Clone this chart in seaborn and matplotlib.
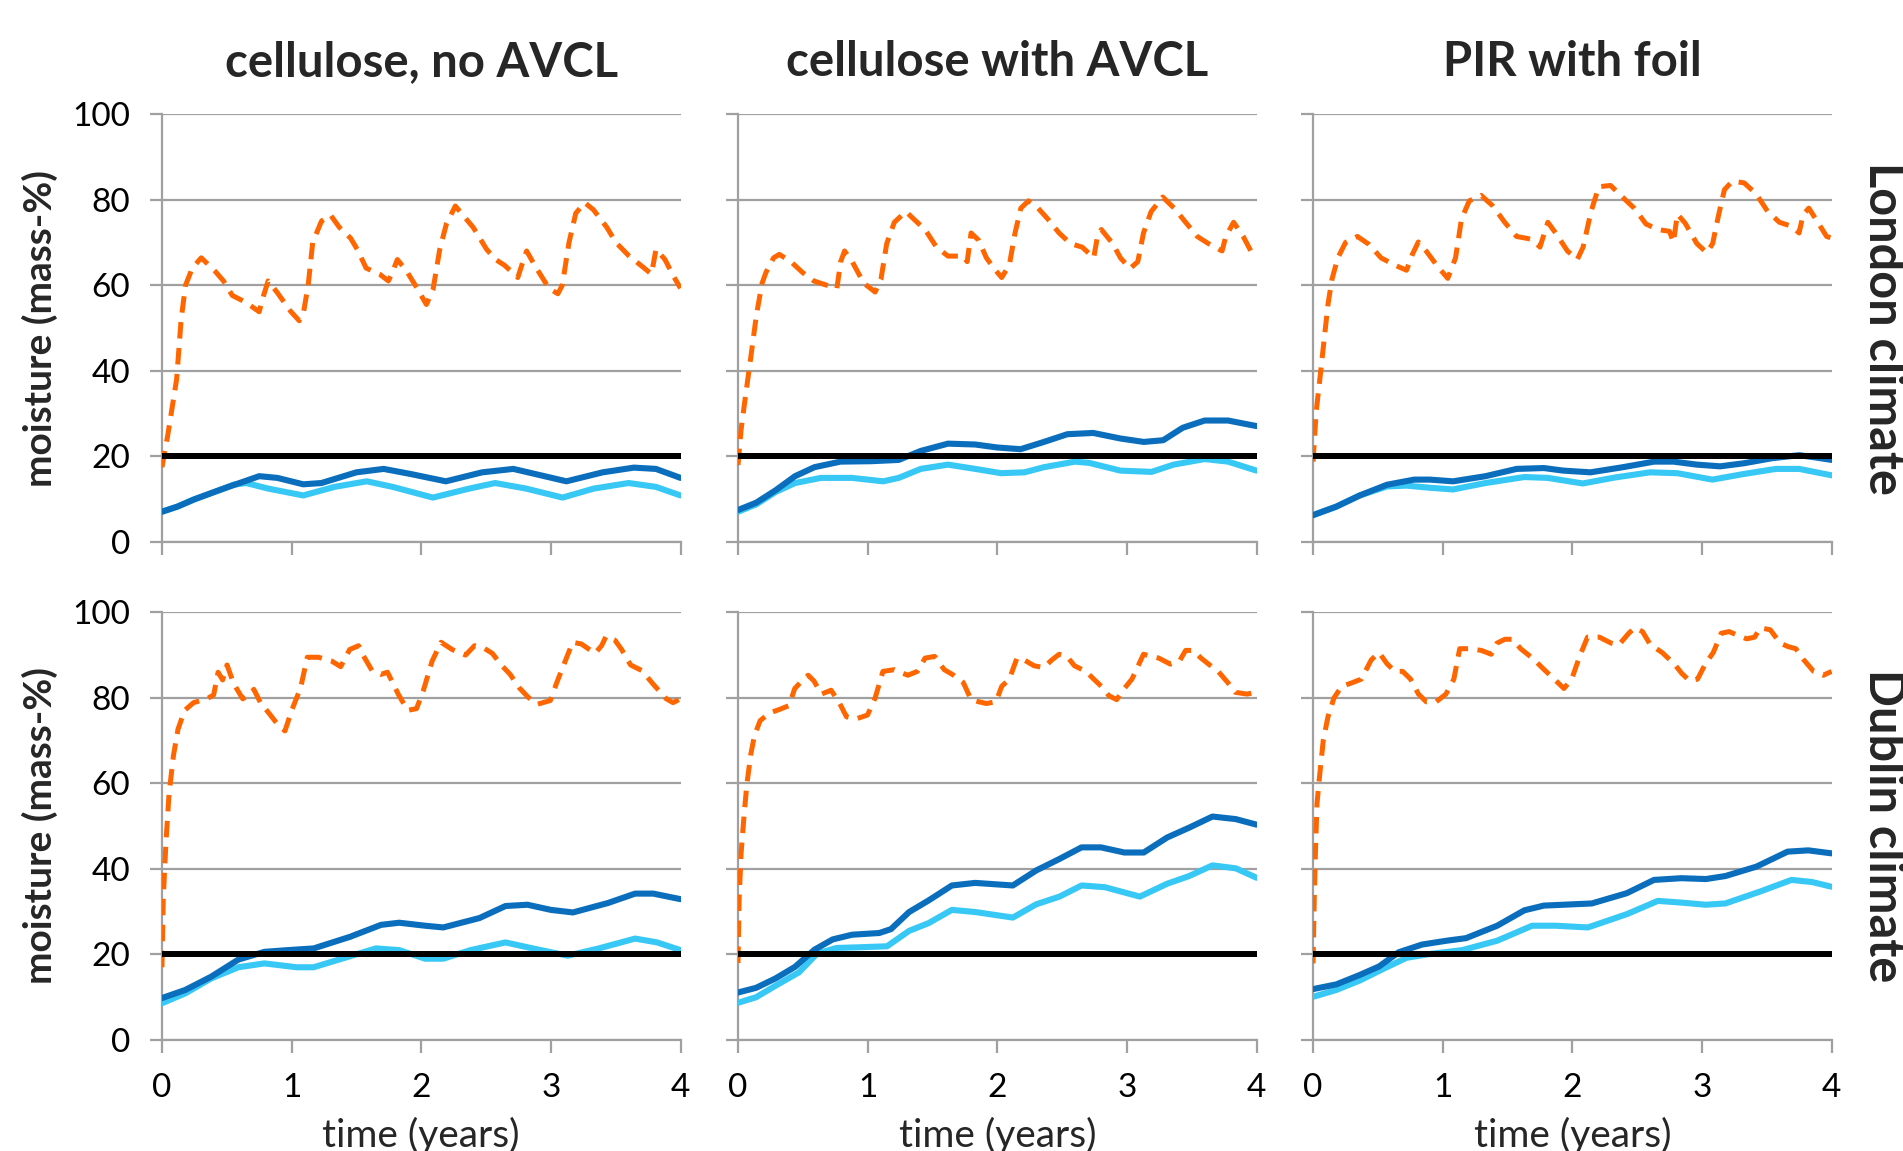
import numpy as np
import pandas as pd
import seaborn as sns
import matplotlib
matplotlib.use("Agg")
import matplotlib.pyplot as plt

# ---- data -----------------------------------------------------------------
columns = ["cellulose, no AVCL", "cellulose with AVCL", "PIR with foil"]
rows = ["London climate", "Dublin climate"]
threshold = 20
xticks = [0, 1, 2, 3, 4]
yticks = [0, 20, 40, 60, 80, 100]

# London, cellulose no AVCL
lon_noavcl_orange_t = [0, 0.045, 0.113, 0.148, 0.182, 0.234, 0.303, 0.406, 0.475, 0.543, 0.647, 0.75, 0.784, 0.819, 0.887, 0.99, 1.059, 1.094, 1.128, 1.163, 1.231, 1.3, 1.369, 1.455, 1.506, 1.575, 1.678, 1.747, 1.782, 1.816, 1.885, 1.954, 2.04, 2.091, 2.143, 2.194, 2.263, 2.332, 2.401, 2.504, 2.573, 2.641, 2.745, 2.779, 2.813, 2.882, 2.985, 3.054, 3.088, 3.14, 3.192, 3.261, 3.329, 3.432, 3.501, 3.604, 3.708, 3.776, 3.811, 3.88, 3.948, 4.0]
lon_noavcl_orange = [17.5, 25, 38, 52, 60, 64, 66.4, 63.4, 61, 57.6, 56, 53.8, 57.6, 61, 58.4, 54, 51.7, 54, 60, 70, 75, 76.4, 73.5, 71, 68.4, 64, 62.6, 61, 63.4, 66, 63.4, 60, 55.5, 59, 68.4, 74.3, 78.5, 76, 73.5, 68.4, 66, 64.7, 61.8, 65, 68, 64.3, 59.3, 58, 60, 70, 76.8, 79.3, 77.6, 73.5, 70, 66.8, 64.3, 62.6, 68.4, 66, 62, 59.3]
lon_noavcl_dark_t = [0, 0.12, 0.25, 0.475, 0.75, 0.89, 1.09, 1.23, 1.5, 1.71, 1.92, 2.19, 2.47, 2.71, 2.88, 3.12, 3.4, 3.64, 3.81, 4.0]
lon_noavcl_dark = [7.1, 8.3, 10, 12.5, 15.4, 15, 13.5, 13.8, 16.3, 17.1, 15.9, 14.2, 16.3, 17.1, 15.9, 14.2, 16.3, 17.4, 17.1, 15]
lon_noavcl_light_t = [0, 0.12, 0.25, 0.475, 0.55, 0.65, 0.82, 1.09, 1.33, 1.58, 1.78, 2.09, 2.37, 2.57, 2.81, 3.09, 3.33, 3.6, 3.81, 4.0]
lon_noavcl_light = [7.1, 8.3, 10, 12.5, 13.4, 13.8, 12.5, 10.9, 12.9, 14.2, 12.9, 10.4, 12.5, 13.8, 12.5, 10.4, 12.5, 13.8, 12.9, 10.9]

# London, cellulose with AVCL
lon_avcl_orange_t = [0, 0.024, 0.053, 0.098, 0.142, 0.186, 0.216, 0.275, 0.319, 0.408, 0.497, 0.585, 0.674, 0.763, 0.792, 0.822, 0.881, 0.97, 1.058, 1.103, 1.147, 1.206, 1.295, 1.354, 1.443, 1.531, 1.62, 1.738, 1.768, 1.798, 1.857, 1.916, 1.975, 2.034, 2.093, 2.137, 2.182, 2.241, 2.3, 2.389, 2.477, 2.566, 2.655, 2.744, 2.773, 2.803, 2.891, 2.95, 3.024, 3.084, 3.128, 3.187, 3.276, 3.364, 3.453, 3.542, 3.63, 3.734, 3.763, 3.823, 3.897, 3.956, 4.0]
lon_avcl_orange = [18, 26.3, 33, 43, 53, 60.5, 63, 66.4, 67.2, 65.5, 63, 61, 60.1, 59.3, 65.5, 68, 65.5, 60.5, 58.4, 61.4, 69.7, 74.7, 77.2, 75.5, 73, 68.9, 66.8, 66.8, 65.5, 72.2, 70.5, 66.4, 63.9, 61.8, 64.7, 72.2, 78, 79.7, 78.5, 75.5, 72.2, 69.7, 68.9, 66.4, 71.4, 73, 69.7, 66.4, 63.9, 65.5, 72.2, 77.2, 80.6, 78, 74.7, 71.4, 69.7, 68, 71.4, 74.7, 71.4, 68, 67.2]
lon_avcl_dark_t = [0, 0.14, 0.29, 0.44, 0.59, 0.79, 1.03, 1.24, 1.41, 1.62, 1.83, 2.0, 2.18, 2.36, 2.54, 2.74, 2.95, 3.13, 3.28, 3.43, 3.6, 3.78, 4.0]
lon_avcl_dark = [7.5, 9.2, 12.1, 15.4, 17.5, 18.8, 18.9, 19.2, 21.3, 23, 22.8, 22.1, 21.7, 23.4, 25.2, 25.5, 24.2, 23.4, 23.8, 26.7, 28.4, 28.4, 27.1]
lon_avcl_light_t = [0, 0.14, 0.29, 0.44, 0.64, 0.88, 1.12, 1.24, 1.41, 1.62, 1.83, 2.03, 2.21, 2.36, 2.6, 2.71, 2.95, 3.19, 3.36, 3.6, 3.78, 4.0]
lon_avcl_light = [7.1, 8.8, 11.7, 13.8, 15, 15, 14.2, 15, 17.1, 18.1, 17.1, 16.1, 16.3, 17.5, 18.8, 18.5, 16.7, 16.4, 18.1, 19.4, 18.8, 16.7]

# London, PIR with foil
lon_pir_orange_t = [0, 0.024, 0.055, 0.085, 0.115, 0.145, 0.191, 0.251, 0.342, 0.433, 0.524, 0.63, 0.721, 0.766, 0.812, 0.872, 0.963, 1.039, 1.099, 1.145, 1.205, 1.296, 1.387, 1.478, 1.569, 1.69, 1.75, 1.811, 1.871, 1.962, 2.038, 2.083, 2.144, 2.204, 2.295, 2.386, 2.477, 2.568, 2.659, 2.749, 2.78, 2.81, 2.87, 2.961, 3.037, 3.082, 3.128, 3.173, 3.234, 3.325, 3.416, 3.507, 3.597, 3.688, 3.749, 3.779, 3.824, 3.885, 3.961, 4.0]
lon_pir_orange = [18.8, 30.5, 38.8, 47.2, 55.5, 61.3, 66.4, 70, 71.4, 69.5, 66.4, 64.7, 63.5, 67.2, 70.1, 68, 64.3, 61.6, 66.4, 75.5, 79.7, 81, 78.5, 74.7, 71.4, 70.7, 68.9, 74.7, 72.2, 68, 66, 68.9, 77.2, 83, 83.3, 80.6, 78, 74.3, 73, 72.6, 70, 76.6, 74.5, 69.7, 67.6, 69.7, 76.4, 82.3, 84.3, 83.9, 81.4, 77.2, 74.7, 73.8, 72.2, 76.4, 78, 75.1, 71.4, 71]
lon_pir_dark_t = [0, 0.18, 0.36, 0.57, 0.78, 0.9, 1.08, 1.33, 1.57, 1.78, 1.93, 2.14, 2.39, 2.63, 2.78, 2.96, 3.14, 3.32, 3.54, 3.75, 3.87, 4.0]
lon_pir_dark = [6.3, 8.3, 10.9, 13.4, 14.6, 14.6, 14.2, 15.4, 17.1, 17.3, 16.7, 16.3, 17.5, 18.8, 18.8, 18.1, 17.7, 18.4, 19.6, 20.3, 19.8, 19.2]
lon_pir_light_t = [0, 0.18, 0.36, 0.57, 0.72, 0.9, 1.08, 1.33, 1.63, 1.81, 2.08, 2.33, 2.6, 2.81, 3.08, 3.32, 3.57, 3.75, 4.0]
lon_pir_light = [6.3, 8.3, 10.9, 13.0, 13.2, 12.7, 12.3, 13.8, 15.2, 15.0, 13.7, 15.1, 16.3, 16.1, 14.6, 15.9, 17.1, 17.1, 15.6]

# Dublin, cellulose no AVCL
dub_noavcl_orange_t = [0, 0.01, 0.031, 0.055, 0.089, 0.124, 0.175, 0.244, 0.347, 0.399, 0.433, 0.468, 0.502, 0.554, 0.623, 0.674, 0.709, 0.76, 0.829, 0.898, 0.949, 1.001, 1.07, 1.121, 1.207, 1.31, 1.379, 1.448, 1.517, 1.551, 1.62, 1.689, 1.74, 1.826, 1.895, 1.964, 2.015, 2.084, 2.153, 2.239, 2.342, 2.411, 2.48, 2.549, 2.617, 2.686, 2.755, 2.824, 2.893, 2.996, 3.047, 3.099, 3.168, 3.236, 3.34, 3.391, 3.426, 3.494, 3.546, 3.615, 3.701, 3.787, 3.89, 3.942, 4.0]
dub_noavcl_orange = [17, 32.9, 46.2, 57.6, 66.5, 72.6, 77, 78.8, 79.7, 80.6, 85.9, 84.1, 87.6, 83.2, 79.7, 80.6, 81.9, 78.8, 76.2, 73.5, 72.2, 77, 82.3, 89.4, 89.4, 88.5, 87.2, 91.2, 92.1, 89.9, 86.3, 85.4, 85.9, 80.6, 77, 77.4, 81.5, 88.5, 92.9, 91.2, 89.9, 92.1, 91.6, 90.3, 87.6, 85.4, 82.3, 80.1, 78.4, 79.3, 83.6, 87.6, 92.9, 92.5, 90.3, 92.1, 94.3, 93.4, 91.2, 87.6, 86.3, 83.2, 79.7, 78.8, 79.7]
dub_noavcl_dark_t = [0, 0.18, 0.38, 0.59, 0.79, 0.97, 1.17, 1.45, 1.69, 1.83, 2.03, 2.17, 2.45, 2.65, 2.82, 3.0, 3.17, 3.44, 3.65, 3.79, 4.0]
dub_noavcl_dark = [9.8, 11.7, 14.8, 18.8, 20.6, 21, 21.4, 24.1, 26.9, 27.4, 26.7, 26.3, 28.5, 31.3, 31.6, 30.4, 29.8, 32, 34.2, 34.2, 32.9]
dub_noavcl_light_t = [0, 0.18, 0.38, 0.59, 0.79, 1.04, 1.17, 1.41, 1.65, 1.83, 2.03, 2.17, 2.38, 2.65, 2.86, 3.13, 3.37, 3.65, 3.82, 4.0]
dub_noavcl_light = [8.6, 10.9, 14.4, 17, 17.9, 17, 17, 19.2, 21.4, 21, 19, 19, 21, 22.8, 21.4, 19.7, 21.4, 23.7, 22.8, 21]

# Dublin, cellulose with AVCL
dub_avcl_orange_t = [0, 0.009, 0.024, 0.047, 0.068, 0.098, 0.127, 0.171, 0.245, 0.319, 0.393, 0.438, 0.482, 0.541, 0.585, 0.644, 0.718, 0.778, 0.837, 0.911, 0.999, 1.058, 1.118, 1.206, 1.31, 1.384, 1.443, 1.517, 1.591, 1.664, 1.738, 1.798, 1.857, 1.916, 1.99, 2.034, 2.093, 2.152, 2.211, 2.285, 2.359, 2.418, 2.477, 2.537, 2.596, 2.684, 2.744, 2.803, 2.862, 2.921, 2.98, 3.039, 3.128, 3.246, 3.335, 3.409, 3.453, 3.512, 3.572, 3.63, 3.704, 3.778, 3.837, 3.926, 4.0]
dub_avcl_orange = [18, 33, 43.6, 52.5, 59.6, 66.6, 71.1, 74.6, 76.4, 77.2, 78.1, 82.1, 83.5, 85.2, 83.9, 80.8, 81.7, 79, 75.5, 75, 75.9, 79.9, 86.1, 86.5, 85.2, 86.1, 89.2, 89.6, 86.5, 85.2, 83.5, 79.5, 79, 78.6, 79, 82.6, 84.3, 89.2, 88.7, 87.4, 87, 88.7, 90.1, 89.6, 87.4, 86.1, 84.3, 82.6, 80.4, 79.5, 82.1, 84.3, 90.1, 89.2, 87.8, 88.7, 91, 91, 89.2, 87.8, 86.1, 83.5, 81.2, 80.8, 81.2]
dub_avcl_dark_t = [0, 0.14, 0.29, 0.44, 0.59, 0.73, 0.88, 1.09, 1.18, 1.32, 1.47, 1.65, 1.83, 2.12, 2.3, 2.48, 2.65, 2.8, 2.98, 3.13, 3.31, 3.48, 3.66, 3.84, 4.0]
dub_avcl_dark = [11.1, 12.2, 14.4, 17.1, 21.1, 23.5, 24.6, 25, 25.9, 29.9, 32.6, 36.1, 36.7, 36.1, 39.6, 42.3, 45, 45, 43.8, 43.8, 47.3, 49.6, 52.2, 51.6, 50.3]
dub_avcl_light_t = [0, 0.14, 0.29, 0.47, 0.61, 0.76, 0.97, 1.15, 1.32, 1.47, 1.65, 1.83, 2.12, 2.3, 2.48, 2.65, 2.83, 3.1, 3.31, 3.48, 3.66, 3.84, 4.0]
dub_avcl_light = [8.7, 10, 12.7, 15.8, 20.2, 21.5, 21.7, 21.9, 25.5, 27.3, 30.4, 29.9, 28.6, 31.7, 33.5, 36.1, 35.7, 33.5, 36.5, 38.3, 40.8, 40.1, 37.9]

# Dublin, PIR with foil
dub_pir_orange_t = [0, 0.009, 0.018, 0.03, 0.049, 0.079, 0.115, 0.161, 0.221, 0.297, 0.373, 0.403, 0.449, 0.509, 0.57, 0.631, 0.691, 0.752, 0.813, 0.873, 0.949, 1.025, 1.086, 1.131, 1.207, 1.298, 1.374, 1.419, 1.48, 1.541, 1.601, 1.692, 1.783, 1.874, 1.935, 1.995, 2.056, 2.117, 2.208, 2.299, 2.359, 2.435, 2.481, 2.541, 2.602, 2.693, 2.784, 2.845, 2.905, 2.966, 3.027, 3.087, 3.148, 3.209, 3.269, 3.345, 3.406, 3.451, 3.527, 3.603, 3.663, 3.724, 3.785, 3.861, 3.936, 4.0]
dub_pir_orange = [17.9, 33, 43.6, 55.1, 61.3, 70.1, 75.5, 79.9, 82.6, 83.4, 84.3, 86.1, 88.8, 90.5, 87.9, 86.1, 86.1, 84.3, 80.8, 79, 79, 80.8, 84.3, 91.4, 91.4, 91, 90.1, 92.7, 93.6, 93.6, 91.4, 89.2, 86.5, 83.9, 82.1, 84.3, 89.6, 94.1, 94.1, 92.7, 92.3, 95, 96.3, 95.4, 92.3, 90.5, 87.9, 85.6, 83.9, 84.3, 87.9, 90.5, 95, 95.4, 94.6, 93.7, 94.1, 96.3, 95.8, 92.7, 91.9, 91.4, 88.8, 86.1, 85.2, 86.1]
dub_pir_dark_t = [0, 0.18, 0.36, 0.51, 0.66, 0.84, 1.03, 1.18, 1.42, 1.63, 1.78, 1.93, 2.15, 2.42, 2.63, 2.84, 3.03, 3.18, 3.42, 3.66, 3.82, 4.0]
dub_pir_dark = [11.9, 13, 15.2, 17.2, 20.5, 22.3, 23.2, 23.8, 26.7, 30.3, 31.4, 31.6, 31.9, 34.3, 37.4, 37.8, 37.6, 38.3, 40.5, 44, 44.3, 43.6]
dub_pir_light_t = [0, 0.18, 0.36, 0.54, 0.72, 0.9, 1.15, 1.42, 1.69, 1.87, 2.12, 2.42, 2.66, 2.84, 3.03, 3.18, 3.45, 3.69, 3.85, 4.0]
dub_pir_light = [10.1, 11.7, 13.9, 16.6, 19.2, 20.1, 21, 23.2, 26.7, 26.7, 26.3, 29.4, 32.5, 32.1, 31.6, 31.9, 34.7, 37.4, 36.9, 35.8]

panels = [
    [(lon_noavcl_orange_t, lon_noavcl_orange, lon_noavcl_dark_t, lon_noavcl_dark, lon_noavcl_light_t, lon_noavcl_light),
     (lon_avcl_orange_t, lon_avcl_orange, lon_avcl_dark_t, lon_avcl_dark, lon_avcl_light_t, lon_avcl_light),
     (lon_pir_orange_t, lon_pir_orange, lon_pir_dark_t, lon_pir_dark, lon_pir_light_t, lon_pir_light)],
    [(dub_noavcl_orange_t, dub_noavcl_orange, dub_noavcl_dark_t, dub_noavcl_dark, dub_noavcl_light_t, dub_noavcl_light),
     (dub_avcl_orange_t, dub_avcl_orange, dub_avcl_dark_t, dub_avcl_dark, dub_avcl_light_t, dub_avcl_light),
     (dub_pir_orange_t, dub_pir_orange, dub_pir_dark_t, dub_pir_dark, dub_pir_light_t, dub_pir_light)],
]

ORANGE, DARK, LIGHT = "#FF6600", "#0A6EBD", "#38C8F5"
GRID = "#A0A0A0"

sns.set_theme(style="white")
plt.rcParams["font.family"] = ["Lato", "DejaVu Sans"]

fig = plt.figure(figsize=(19.03, 11.51), dpi=100)

col_left = [0.0851, 0.3878, 0.6900]
col_w = 0.2725
row_bottom = [0.529, 0.0964]
row_h = 0.372

for r in range(2):
    for c in range(3):
        ax = fig.add_axes([col_left[c], row_bottom[r], col_w, row_h])
        o_t, o_y, d_t, d_y, l_t, l_y = panels[r][c]
        sns.lineplot(x=o_t, y=o_y, ax=ax, color=ORANGE, lw=3.6, estimator=None,
                     linestyle=(0, (3.3, 1.9)), zorder=3)
        sns.lineplot(x=l_t, y=l_y, ax=ax, color=LIGHT, lw=4.4, estimator=None, zorder=4,
                     solid_joinstyle="round")
        sns.lineplot(x=d_t, y=d_y, ax=ax, color=DARK, lw=4.4, estimator=None, zorder=5,
                     solid_joinstyle="round")
        sns.lineplot(x=[xticks[0], xticks[-1]], y=[threshold, threshold], ax=ax,
                     color="black", lw=4.3, estimator=None, zorder=6)
        ax.set_xlim(0, 4)
        ax.set_ylim(0, 100)
        ax.set_xticks(xticks)
        ax.set_yticks(yticks)
        ax.yaxis.grid(True, color=GRID, lw=1.6)
        ax.set_axisbelow(True)
        for s in ["top", "right"]:
            ax.spines[s].set_visible(False)
        for s in ["left", "bottom"]:
            ax.spines[s].set_color(GRID)
            ax.spines[s].set_linewidth(1.6)
        ax.tick_params(axis="both", direction="out", length=9, width=1.6, color=GRID,
                       labelsize=24, labelcolor="black")
        ax.tick_params(axis="x", pad=15, bottom=True)
        ax.tick_params(axis="y", pad=14, left=True)
        ax.set_xlabel("")
        ax.set_ylabel("")
        if c > 0:
            ax.set_yticklabels([])
        if r == 0:
            ax.set_xticklabels([])
        else:
            fig.text(col_left[c] + col_w / 2, 0.030, "time (years)", ha="center", va="top",
                     fontsize=28)
        if r == 0:
            fig.text(col_left[c] + col_w / 2, 0.946, columns[c], ha="center", va="center",
                     fontsize=34, fontweight="bold")

for r in range(2):
    yc = row_bottom[r] + row_h / 2
    fig.text(0.021, yc, "moisture (mass-%)", rotation=90, ha="center", va="center",
             fontsize=28, fontweight="bold")
    fig.text(0.990, yc, rows[r], rotation=-90, ha="center", va="center",
             fontsize=35, fontweight="bold")

fig.savefig("out.png", dpi=100)
